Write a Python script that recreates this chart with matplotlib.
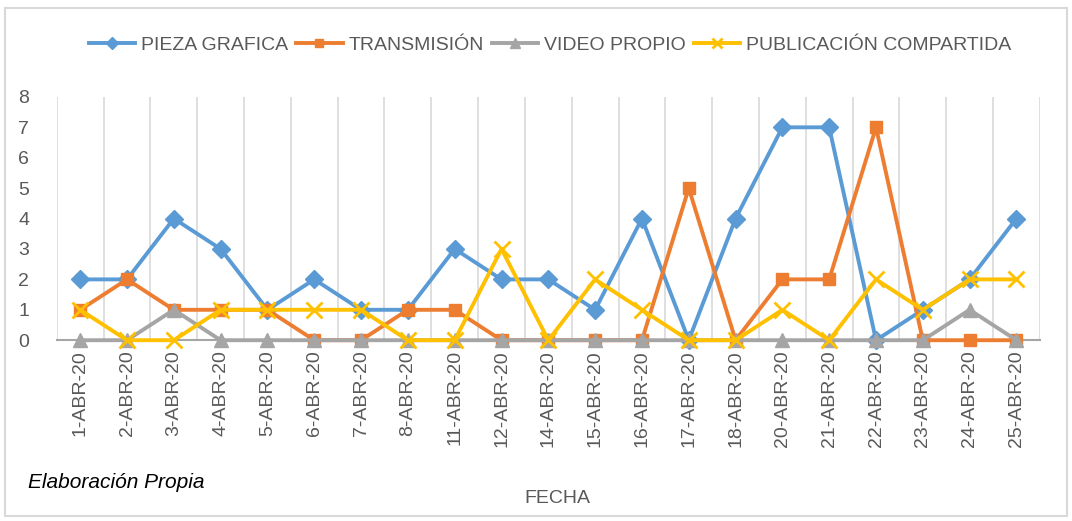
import numpy as np
import matplotlib.pyplot as plt
from matplotlib.patches import Rectangle

### DATA

fechas = ['1-ABR-20', '2-ABR-20', '3-ABR-20', '4-ABR-20', '5-ABR-20', '6-ABR-20', '7-ABR-20',
          '8-ABR-20', '11-ABR-20', '12-ABR-20', '14-ABR-20', '15-ABR-20', '16-ABR-20', '17-ABR-20',
          '18-ABR-20', '20-ABR-20', '21-ABR-20', '22-ABR-20', '23-ABR-20', '24-ABR-20', '25-ABR-20']
pieza_grafica = [2, 2, 4, 3, 1, 2, 1, 1, 3, 2, 2, 1, 4, 0, 4, 7, 7, 0, 1, 2, 4]
transmision = [1, 2, 1, 1, 1, 0, 0, 1, 1, 0, 0, 0, 0, 5, 0, 2, 2, 7, 0, 0, 0]
video_propio = [0, 0, 1, 0, 0, 0, 0, 0, 0, 0, 0, 0, 0, 0, 0, 0, 0, 0, 0, 1, 0]
publicacion = [1, 0, 0, 1, 1, 1, 1, 0, 0, 3, 0, 2, 1, 0, 0, 1, 0, 2, 1, 2, 2]

### PLOT

plt.rcParams['font.family'] = ['Liberation Sans', 'DejaVu Sans']

fig = plt.figure(figsize=(10.72, 5.21), dpi=100)
ax = fig.add_axes([0.053, 0.347, 0.917, 0.467])
x = np.arange(len(fechas))

series = [
    (pieza_grafica, 'PIEZA GRAFICA', '#5B9BD5', 'D', 9),
    (transmision, 'TRANSMISIÓN', '#ED7D31', 's', 9),
    (video_propio, 'VIDEO PROPIO', '#A5A5A5', '^', 10),
    (publicacion, 'PUBLICACIÓN COMPARTIDA', '#FFC000', 'x', 11),
]
for vals, name, col, mk, ms in series:
    ax.plot(x, vals, color=col, lw=2.8, marker=mk, ms=ms, mew=2 if mk == 'x' else 1,
            label=name, clip_on=False, zorder=3)

ax.set_xlim(-0.5, len(fechas) - 0.5)
ax.set_ylim(0, 8)
ax.set_yticks(range(9))
ax.tick_params(axis='y', length=0, labelsize=14, labelcolor='#595959', pad=20)
ax.set_xticks(x)
ax.set_xticklabels(fechas, rotation=90, fontsize=14, color='#595959')
ax.tick_params(axis='x', length=0, pad=7)
ax.set_xticks(np.arange(len(fechas) + 1) - 0.5, minor=True)
ax.tick_params(axis='x', which='minor', length=0)
ax.grid(axis='x', which='minor', color='#D9D9D9', lw=1.2)
ax.grid(axis='x', which='major', visible=False)
for s in ['left', 'right', 'top']:
    ax.spines[s].set_visible(False)
ax.spines['bottom'].set_color('#A6A6A6')
ax.spines['bottom'].set_linewidth(1.5)

fig.legend(loc='center', bbox_to_anchor=(0.513, 0.913), ncol=4, frameon=False,
           fontsize=14, handlelength=2.4, columnspacing=0.4, handletextpad=0.3,
           markerscale=0.7, labelcolor='#595959')

fig.text(0.52, 0.043, 'FECHA', ha='center', va='center', fontsize=14, color='#595959')
fig.text(0.026, 0.073, 'Elaboración Propia', ha='left', va='center', fontsize=15,
         style='italic', color='black')

fig.patches.append(Rectangle((0.005, 0.01), 0.99, 0.975, transform=fig.transFigure,
                             fill=False, ec='#D9D9D9', lw=1.5))

plt.savefig('out.png', dpi=100)
